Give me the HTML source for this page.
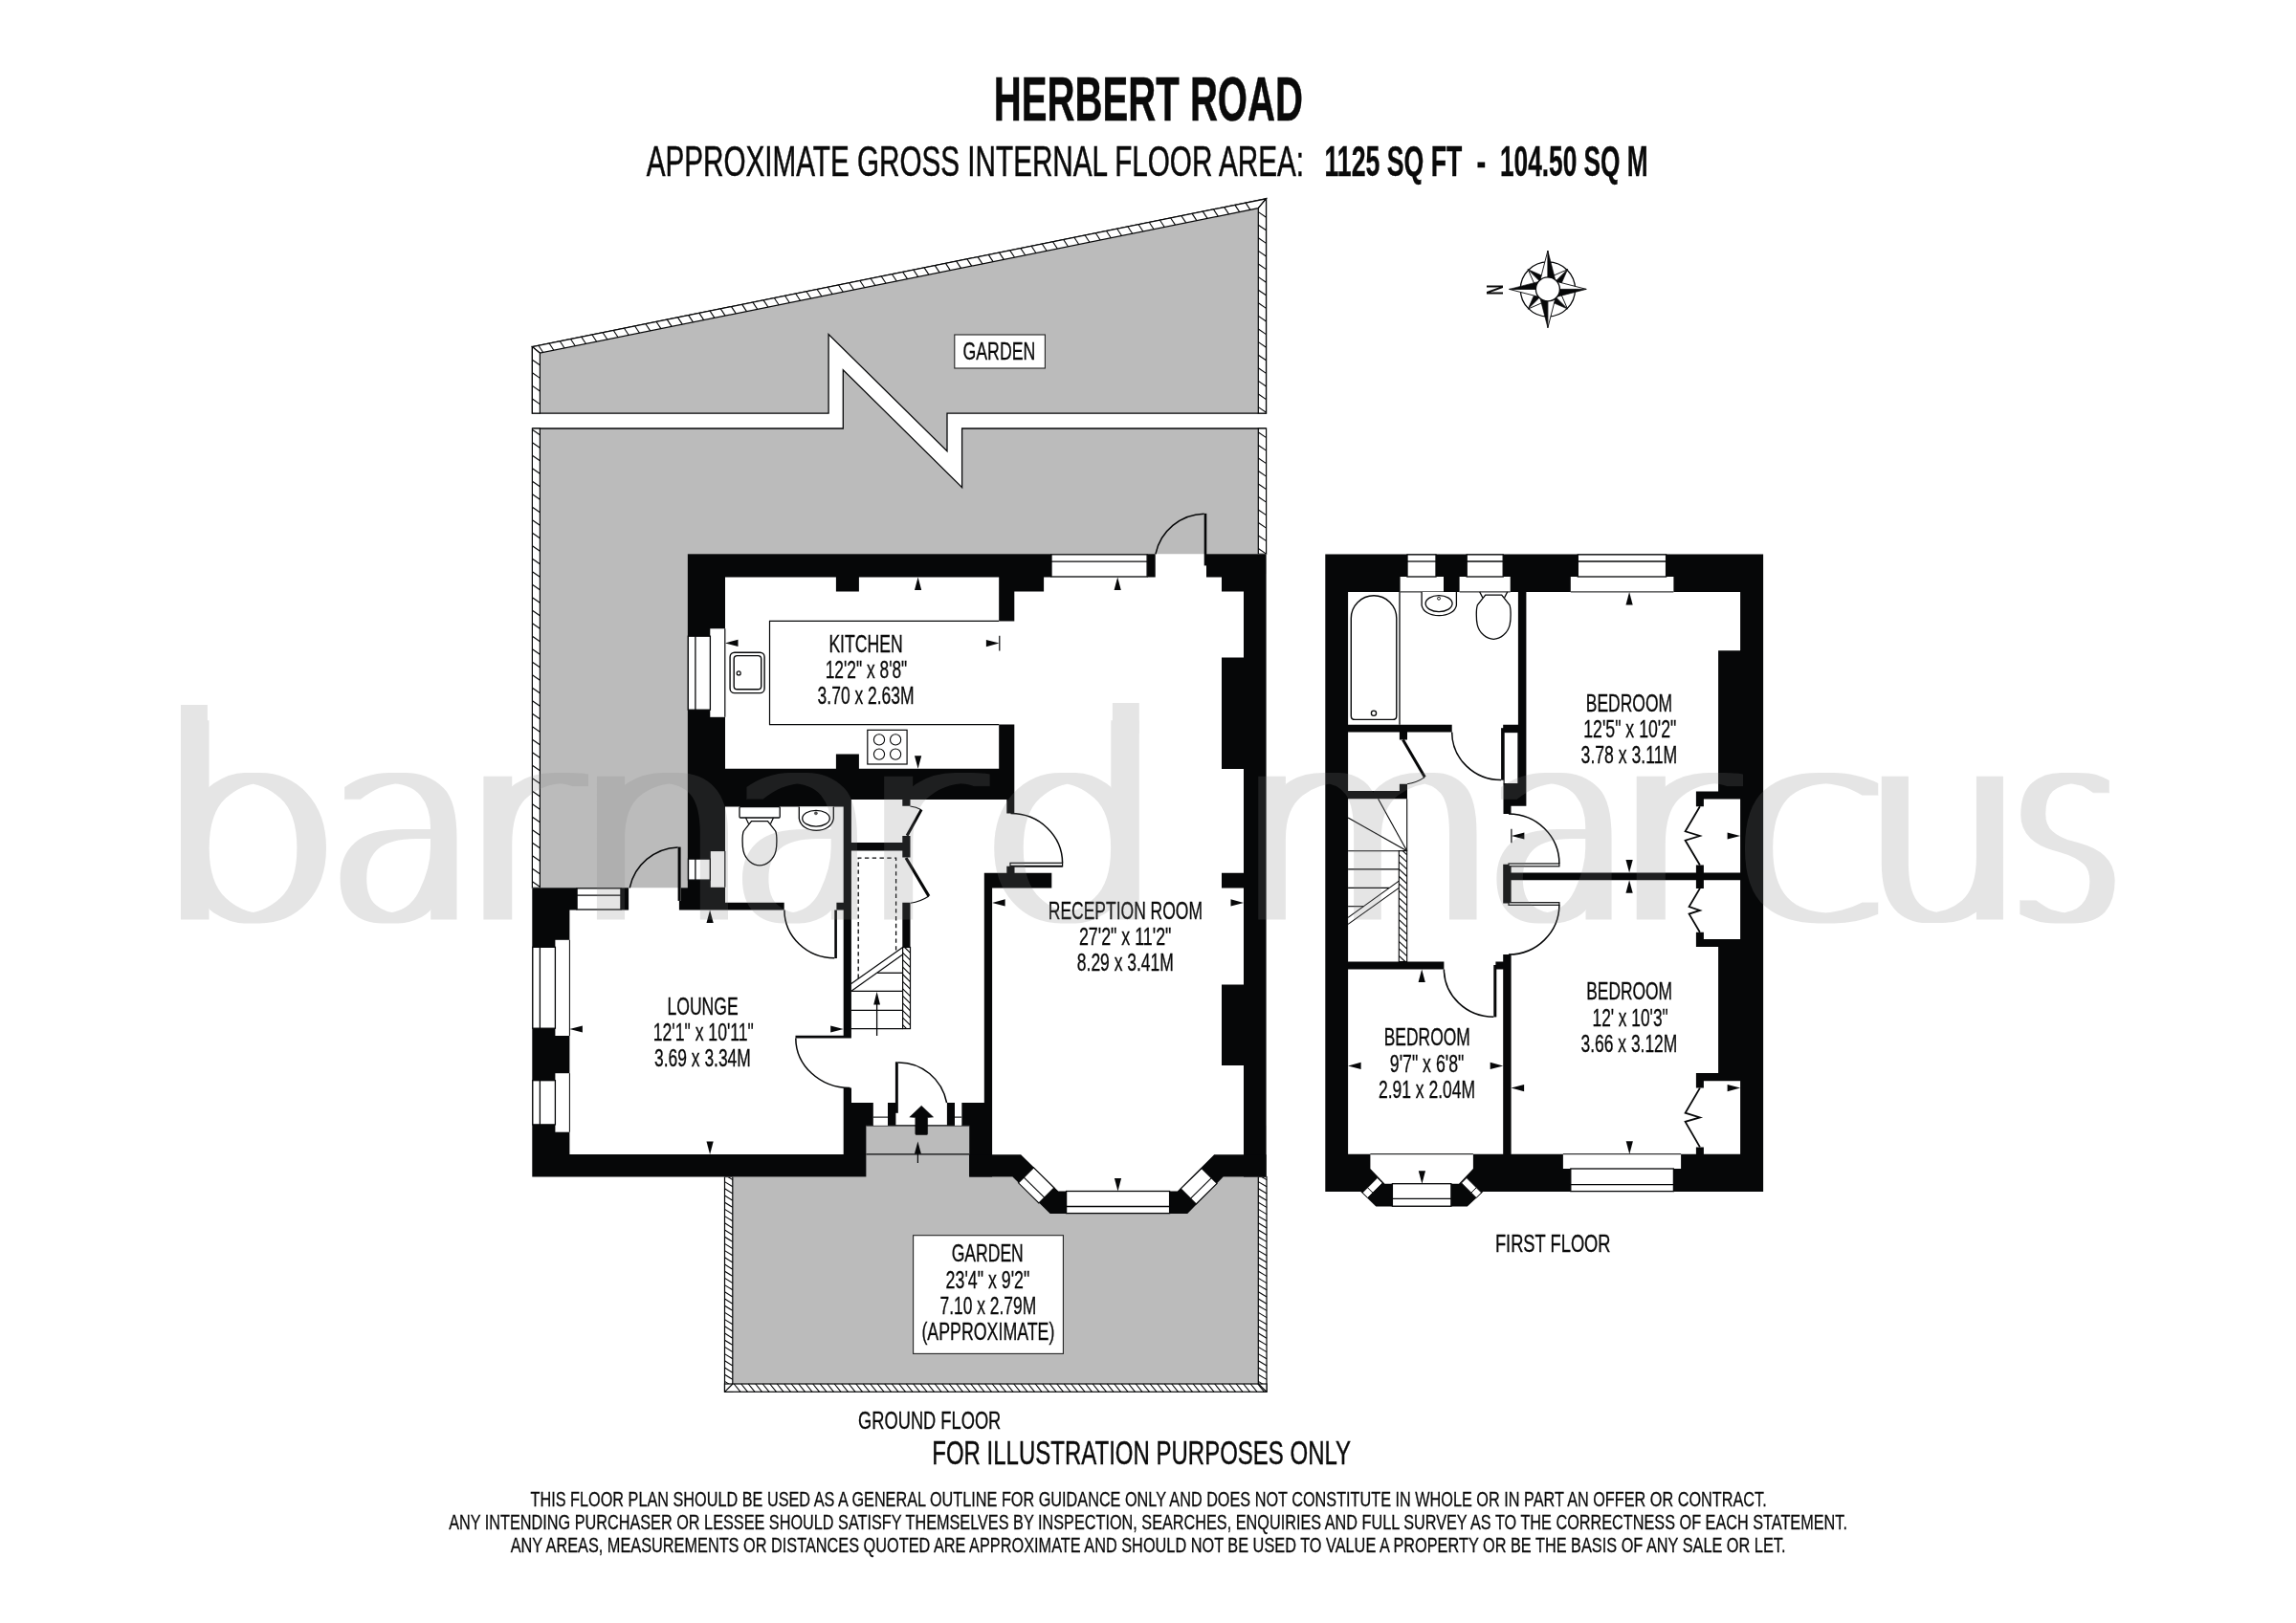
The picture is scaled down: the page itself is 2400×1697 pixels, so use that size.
<!DOCTYPE html>
<html lang="en"><head><meta charset="utf-8"><title>Herbert Road floor plan</title>
<style>html,body{margin:0;padding:0;background:#fff}body{width:2400px;height:1697px;overflow:hidden}svg{display:block;will-change:transform}text{font-family:"Liberation Sans",sans-serif;fill:#0a0a0a}</style>
</head><body>
<svg width="2400" height="1697" viewBox="0 0 2400 1697">
<rect width="2400" height="1697" fill="#fff"/>
<g id="gardens">
<polygon points="556.4,362.6 1323.5,207.8 1323.5,432.2 990,432.2 990,471.7 866.1,349.5 866.1,432.2 556.4,432.2" fill="#bbbbbb" stroke="#060708" stroke-width="1.3"/>
<polygon points="556.4,448 881.3,448 881.3,386.8 1005.6,509.6 1005.6,448 1323.6,448 1323.6,600 730,600 730,940 556.4,940" fill="#bbbbbb"/>
<polyline points="556.4,448 881.3,448 881.3,386.8 1005.6,509.6 1005.6,448 1323.6,448" fill="none" stroke="#060708" stroke-width="1.3"/>
<rect x="757.3" y="1176.8" width="566.5" height="278.5" fill="#bbbbbb"/>
</g>
<g id="fences">
<polygon points="556.4,362.6 1323.5,207.8 1315.3,217.65 564.4,369.19" fill="#fff" stroke="#060708" stroke-width="1.2"/>
<line x1="562.9" y1="361.29" x2="567.7" y2="368.52" stroke="#060708" stroke-width="1.1"/>
<line x1="574.1" y1="359.03" x2="578.9" y2="366.26" stroke="#060708" stroke-width="1.1"/>
<line x1="585.3" y1="356.77" x2="590.1" y2="364" stroke="#060708" stroke-width="1.1"/>
<line x1="596.5" y1="354.51" x2="601.3" y2="361.74" stroke="#060708" stroke-width="1.1"/>
<line x1="607.7" y1="352.25" x2="612.5" y2="359.48" stroke="#060708" stroke-width="1.1"/>
<line x1="618.9" y1="349.99" x2="623.7" y2="357.22" stroke="#060708" stroke-width="1.1"/>
<line x1="630.1" y1="347.73" x2="634.9" y2="354.96" stroke="#060708" stroke-width="1.1"/>
<line x1="641.3" y1="345.47" x2="646.1" y2="352.7" stroke="#060708" stroke-width="1.1"/>
<line x1="652.5" y1="343.21" x2="657.3" y2="350.44" stroke="#060708" stroke-width="1.1"/>
<line x1="663.7" y1="340.95" x2="668.5" y2="348.18" stroke="#060708" stroke-width="1.1"/>
<line x1="674.9" y1="338.69" x2="679.7" y2="345.92" stroke="#060708" stroke-width="1.1"/>
<line x1="686.1" y1="336.43" x2="690.9" y2="343.66" stroke="#060708" stroke-width="1.1"/>
<line x1="697.3" y1="334.17" x2="702.1" y2="341.4" stroke="#060708" stroke-width="1.1"/>
<line x1="708.5" y1="331.91" x2="713.3" y2="339.14" stroke="#060708" stroke-width="1.1"/>
<line x1="719.7" y1="329.65" x2="724.5" y2="336.88" stroke="#060708" stroke-width="1.1"/>
<line x1="730.9" y1="327.39" x2="735.7" y2="334.62" stroke="#060708" stroke-width="1.1"/>
<line x1="742.1" y1="325.13" x2="746.9" y2="332.36" stroke="#060708" stroke-width="1.1"/>
<line x1="753.3" y1="322.87" x2="758.1" y2="330.1" stroke="#060708" stroke-width="1.1"/>
<line x1="764.5" y1="320.61" x2="769.3" y2="327.84" stroke="#060708" stroke-width="1.1"/>
<line x1="775.7" y1="318.35" x2="780.5" y2="325.58" stroke="#060708" stroke-width="1.1"/>
<line x1="786.9" y1="316.09" x2="791.7" y2="323.32" stroke="#060708" stroke-width="1.1"/>
<line x1="798.1" y1="313.83" x2="802.9" y2="321.06" stroke="#060708" stroke-width="1.1"/>
<line x1="809.3" y1="311.57" x2="814.1" y2="318.8" stroke="#060708" stroke-width="1.1"/>
<line x1="820.5" y1="309.3" x2="825.3" y2="316.54" stroke="#060708" stroke-width="1.1"/>
<line x1="831.7" y1="307.04" x2="836.5" y2="314.28" stroke="#060708" stroke-width="1.1"/>
<line x1="842.9" y1="304.78" x2="847.7" y2="312.02" stroke="#060708" stroke-width="1.1"/>
<line x1="854.1" y1="302.52" x2="858.9" y2="309.76" stroke="#060708" stroke-width="1.1"/>
<line x1="865.3" y1="300.26" x2="870.1" y2="307.5" stroke="#060708" stroke-width="1.1"/>
<line x1="876.5" y1="298" x2="881.3" y2="305.24" stroke="#060708" stroke-width="1.1"/>
<line x1="887.7" y1="295.74" x2="892.5" y2="302.98" stroke="#060708" stroke-width="1.1"/>
<line x1="898.9" y1="293.48" x2="903.7" y2="300.72" stroke="#060708" stroke-width="1.1"/>
<line x1="910.1" y1="291.22" x2="914.9" y2="298.46" stroke="#060708" stroke-width="1.1"/>
<line x1="921.3" y1="288.96" x2="926.1" y2="296.19" stroke="#060708" stroke-width="1.1"/>
<line x1="932.5" y1="286.7" x2="937.3" y2="293.93" stroke="#060708" stroke-width="1.1"/>
<line x1="943.7" y1="284.44" x2="948.5" y2="291.67" stroke="#060708" stroke-width="1.1"/>
<line x1="954.9" y1="282.18" x2="959.7" y2="289.41" stroke="#060708" stroke-width="1.1"/>
<line x1="966.1" y1="279.92" x2="970.9" y2="287.15" stroke="#060708" stroke-width="1.1"/>
<line x1="977.3" y1="277.66" x2="982.1" y2="284.89" stroke="#060708" stroke-width="1.1"/>
<line x1="988.5" y1="275.4" x2="993.3" y2="282.63" stroke="#060708" stroke-width="1.1"/>
<line x1="999.7" y1="273.14" x2="1004.5" y2="280.37" stroke="#060708" stroke-width="1.1"/>
<line x1="1010.9" y1="270.88" x2="1015.7" y2="278.11" stroke="#060708" stroke-width="1.1"/>
<line x1="1022.1" y1="268.62" x2="1026.9" y2="275.85" stroke="#060708" stroke-width="1.1"/>
<line x1="1033.3" y1="266.36" x2="1038.1" y2="273.59" stroke="#060708" stroke-width="1.1"/>
<line x1="1044.5" y1="264.1" x2="1049.3" y2="271.33" stroke="#060708" stroke-width="1.1"/>
<line x1="1055.7" y1="261.84" x2="1060.5" y2="269.07" stroke="#060708" stroke-width="1.1"/>
<line x1="1066.9" y1="259.58" x2="1071.7" y2="266.81" stroke="#060708" stroke-width="1.1"/>
<line x1="1078.1" y1="257.32" x2="1082.9" y2="264.55" stroke="#060708" stroke-width="1.1"/>
<line x1="1089.3" y1="255.06" x2="1094.1" y2="262.29" stroke="#060708" stroke-width="1.1"/>
<line x1="1100.5" y1="252.8" x2="1105.3" y2="260.03" stroke="#060708" stroke-width="1.1"/>
<line x1="1111.7" y1="250.54" x2="1116.5" y2="257.77" stroke="#060708" stroke-width="1.1"/>
<line x1="1122.9" y1="248.28" x2="1127.7" y2="255.51" stroke="#060708" stroke-width="1.1"/>
<line x1="1134.1" y1="246.02" x2="1138.9" y2="253.25" stroke="#060708" stroke-width="1.1"/>
<line x1="1145.3" y1="243.76" x2="1150.1" y2="250.99" stroke="#060708" stroke-width="1.1"/>
<line x1="1156.5" y1="241.5" x2="1161.3" y2="248.73" stroke="#060708" stroke-width="1.1"/>
<line x1="1167.7" y1="239.24" x2="1172.5" y2="246.47" stroke="#060708" stroke-width="1.1"/>
<line x1="1178.9" y1="236.98" x2="1183.7" y2="244.21" stroke="#060708" stroke-width="1.1"/>
<line x1="1190.1" y1="234.72" x2="1194.9" y2="241.95" stroke="#060708" stroke-width="1.1"/>
<line x1="1201.3" y1="232.46" x2="1206.1" y2="239.69" stroke="#060708" stroke-width="1.1"/>
<line x1="1212.5" y1="230.2" x2="1217.3" y2="237.43" stroke="#060708" stroke-width="1.1"/>
<line x1="1223.7" y1="227.94" x2="1228.5" y2="235.17" stroke="#060708" stroke-width="1.1"/>
<line x1="1234.9" y1="225.68" x2="1239.7" y2="232.91" stroke="#060708" stroke-width="1.1"/>
<line x1="1246.1" y1="223.42" x2="1250.9" y2="230.65" stroke="#060708" stroke-width="1.1"/>
<line x1="1257.3" y1="221.16" x2="1262.1" y2="228.39" stroke="#060708" stroke-width="1.1"/>
<line x1="1268.5" y1="218.9" x2="1273.3" y2="226.13" stroke="#060708" stroke-width="1.1"/>
<line x1="1279.7" y1="216.64" x2="1284.5" y2="223.87" stroke="#060708" stroke-width="1.1"/>
<line x1="1290.9" y1="214.38" x2="1295.7" y2="221.61" stroke="#060708" stroke-width="1.1"/>
<line x1="1302.1" y1="212.12" x2="1306.9" y2="219.35" stroke="#060708" stroke-width="1.1"/>
<line x1="556.4" y1="362.6" x2="564.4" y2="369.19" stroke="#060708" stroke-width="1.1"/>
<line x1="1323.5" y1="207.8" x2="1315.3" y2="217.65" stroke="#060708" stroke-width="1.1"/>
<polygon points="556.4,362.6 564.4,369.19 564.4,432.2 556.4,432.2" fill="#fff" stroke="#060708" stroke-width="1.2"/>
<line x1="556.4" y1="376.2" x2="564.4" y2="381.8" stroke="#060708" stroke-width="1.1"/>
<line x1="556.4" y1="389.8" x2="564.4" y2="395.4" stroke="#060708" stroke-width="1.1"/>
<line x1="556.4" y1="403.4" x2="564.4" y2="409" stroke="#060708" stroke-width="1.1"/>
<line x1="556.4" y1="417" x2="564.4" y2="422.6" stroke="#060708" stroke-width="1.1"/>
<polygon points="1323.5,207.8 1323.5,432.2 1315.3,432.2 1315.3,217.65" fill="#fff" stroke="#060708" stroke-width="1.2"/>
<line x1="1315.3" y1="221.6" x2="1323.5" y2="227.2" stroke="#060708" stroke-width="1.1"/>
<line x1="1315.3" y1="235.2" x2="1323.5" y2="240.8" stroke="#060708" stroke-width="1.1"/>
<line x1="1315.3" y1="248.8" x2="1323.5" y2="254.4" stroke="#060708" stroke-width="1.1"/>
<line x1="1315.3" y1="262.4" x2="1323.5" y2="268" stroke="#060708" stroke-width="1.1"/>
<line x1="1315.3" y1="276" x2="1323.5" y2="281.6" stroke="#060708" stroke-width="1.1"/>
<line x1="1315.3" y1="289.6" x2="1323.5" y2="295.2" stroke="#060708" stroke-width="1.1"/>
<line x1="1315.3" y1="303.2" x2="1323.5" y2="308.8" stroke="#060708" stroke-width="1.1"/>
<line x1="1315.3" y1="316.8" x2="1323.5" y2="322.4" stroke="#060708" stroke-width="1.1"/>
<line x1="1315.3" y1="330.4" x2="1323.5" y2="336" stroke="#060708" stroke-width="1.1"/>
<line x1="1315.3" y1="344" x2="1323.5" y2="349.6" stroke="#060708" stroke-width="1.1"/>
<line x1="1315.3" y1="357.6" x2="1323.5" y2="363.2" stroke="#060708" stroke-width="1.1"/>
<line x1="1315.3" y1="371.2" x2="1323.5" y2="376.8" stroke="#060708" stroke-width="1.1"/>
<line x1="1315.3" y1="384.8" x2="1323.5" y2="390.4" stroke="#060708" stroke-width="1.1"/>
<line x1="1315.3" y1="398.4" x2="1323.5" y2="404" stroke="#060708" stroke-width="1.1"/>
<line x1="1315.3" y1="412" x2="1323.5" y2="417.6" stroke="#060708" stroke-width="1.1"/>
<line x1="1315.3" y1="425.6" x2="1323.5" y2="431.2" stroke="#060708" stroke-width="1.1"/>
<rect x="556.4" y="448" width="8" height="480.3" fill="#fff" stroke="#060708" stroke-width="1.2"/>
<line x1="556.4" y1="449.2" x2="564.4" y2="454.8" stroke="#060708" stroke-width="1.1"/>
<line x1="556.4" y1="462.7" x2="564.4" y2="468.3" stroke="#060708" stroke-width="1.1"/>
<line x1="556.4" y1="476.2" x2="564.4" y2="481.8" stroke="#060708" stroke-width="1.1"/>
<line x1="556.4" y1="489.7" x2="564.4" y2="495.3" stroke="#060708" stroke-width="1.1"/>
<line x1="556.4" y1="503.2" x2="564.4" y2="508.8" stroke="#060708" stroke-width="1.1"/>
<line x1="556.4" y1="516.7" x2="564.4" y2="522.3" stroke="#060708" stroke-width="1.1"/>
<line x1="556.4" y1="530.2" x2="564.4" y2="535.8" stroke="#060708" stroke-width="1.1"/>
<line x1="556.4" y1="543.7" x2="564.4" y2="549.3" stroke="#060708" stroke-width="1.1"/>
<line x1="556.4" y1="557.2" x2="564.4" y2="562.8" stroke="#060708" stroke-width="1.1"/>
<line x1="556.4" y1="570.7" x2="564.4" y2="576.3" stroke="#060708" stroke-width="1.1"/>
<line x1="556.4" y1="584.2" x2="564.4" y2="589.8" stroke="#060708" stroke-width="1.1"/>
<line x1="556.4" y1="597.7" x2="564.4" y2="603.3" stroke="#060708" stroke-width="1.1"/>
<line x1="556.4" y1="611.2" x2="564.4" y2="616.8" stroke="#060708" stroke-width="1.1"/>
<line x1="556.4" y1="624.7" x2="564.4" y2="630.3" stroke="#060708" stroke-width="1.1"/>
<line x1="556.4" y1="638.2" x2="564.4" y2="643.8" stroke="#060708" stroke-width="1.1"/>
<line x1="556.4" y1="651.7" x2="564.4" y2="657.3" stroke="#060708" stroke-width="1.1"/>
<line x1="556.4" y1="665.2" x2="564.4" y2="670.8" stroke="#060708" stroke-width="1.1"/>
<line x1="556.4" y1="678.7" x2="564.4" y2="684.3" stroke="#060708" stroke-width="1.1"/>
<line x1="556.4" y1="692.2" x2="564.4" y2="697.8" stroke="#060708" stroke-width="1.1"/>
<line x1="556.4" y1="705.7" x2="564.4" y2="711.3" stroke="#060708" stroke-width="1.1"/>
<line x1="556.4" y1="719.2" x2="564.4" y2="724.8" stroke="#060708" stroke-width="1.1"/>
<line x1="556.4" y1="732.7" x2="564.4" y2="738.3" stroke="#060708" stroke-width="1.1"/>
<line x1="556.4" y1="746.2" x2="564.4" y2="751.8" stroke="#060708" stroke-width="1.1"/>
<line x1="556.4" y1="759.7" x2="564.4" y2="765.3" stroke="#060708" stroke-width="1.1"/>
<line x1="556.4" y1="773.2" x2="564.4" y2="778.8" stroke="#060708" stroke-width="1.1"/>
<line x1="556.4" y1="786.7" x2="564.4" y2="792.3" stroke="#060708" stroke-width="1.1"/>
<line x1="556.4" y1="800.2" x2="564.4" y2="805.8" stroke="#060708" stroke-width="1.1"/>
<line x1="556.4" y1="813.7" x2="564.4" y2="819.3" stroke="#060708" stroke-width="1.1"/>
<line x1="556.4" y1="827.2" x2="564.4" y2="832.8" stroke="#060708" stroke-width="1.1"/>
<line x1="556.4" y1="840.7" x2="564.4" y2="846.3" stroke="#060708" stroke-width="1.1"/>
<line x1="556.4" y1="854.2" x2="564.4" y2="859.8" stroke="#060708" stroke-width="1.1"/>
<line x1="556.4" y1="867.7" x2="564.4" y2="873.3" stroke="#060708" stroke-width="1.1"/>
<line x1="556.4" y1="881.2" x2="564.4" y2="886.8" stroke="#060708" stroke-width="1.1"/>
<line x1="556.4" y1="894.7" x2="564.4" y2="900.3" stroke="#060708" stroke-width="1.1"/>
<line x1="556.4" y1="908.2" x2="564.4" y2="913.8" stroke="#060708" stroke-width="1.1"/>
<line x1="556.4" y1="921.7" x2="564.4" y2="927.3" stroke="#060708" stroke-width="1.1"/>
<rect x="1315.3" y="448" width="8.3" height="131.3" fill="#fff" stroke="#060708" stroke-width="1.2"/>
<line x1="1315.3" y1="452" x2="1323.6" y2="457.6" stroke="#060708" stroke-width="1.1"/>
<line x1="1315.3" y1="465.5" x2="1323.6" y2="471.1" stroke="#060708" stroke-width="1.1"/>
<line x1="1315.3" y1="479" x2="1323.6" y2="484.6" stroke="#060708" stroke-width="1.1"/>
<line x1="1315.3" y1="492.5" x2="1323.6" y2="498.1" stroke="#060708" stroke-width="1.1"/>
<line x1="1315.3" y1="506" x2="1323.6" y2="511.6" stroke="#060708" stroke-width="1.1"/>
<line x1="1315.3" y1="519.5" x2="1323.6" y2="525.1" stroke="#060708" stroke-width="1.1"/>
<line x1="1315.3" y1="533" x2="1323.6" y2="538.6" stroke="#060708" stroke-width="1.1"/>
<line x1="1315.3" y1="546.5" x2="1323.6" y2="552.1" stroke="#060708" stroke-width="1.1"/>
<line x1="1315.3" y1="560" x2="1323.6" y2="565.6" stroke="#060708" stroke-width="1.1"/>
<line x1="1315.3" y1="573.5" x2="1323.6" y2="579.1" stroke="#060708" stroke-width="1.1"/>
<rect x="757.5" y="1230.5" width="8.3" height="224.8" fill="#fff" stroke="#060708" stroke-width="1.2"/>
<line x1="760.85" y1="1230.5" x2="765.8" y2="1233.6" stroke="#060708" stroke-width="1.1"/>
<line x1="757.5" y1="1235.6" x2="765.8" y2="1240.8" stroke="#060708" stroke-width="1.1"/>
<line x1="757.5" y1="1242.8" x2="765.8" y2="1248" stroke="#060708" stroke-width="1.1"/>
<line x1="757.5" y1="1250" x2="765.8" y2="1255.2" stroke="#060708" stroke-width="1.1"/>
<line x1="757.5" y1="1257.2" x2="765.8" y2="1262.4" stroke="#060708" stroke-width="1.1"/>
<line x1="757.5" y1="1264.4" x2="765.8" y2="1269.6" stroke="#060708" stroke-width="1.1"/>
<line x1="757.5" y1="1271.6" x2="765.8" y2="1276.8" stroke="#060708" stroke-width="1.1"/>
<line x1="757.5" y1="1278.8" x2="765.8" y2="1284" stroke="#060708" stroke-width="1.1"/>
<line x1="757.5" y1="1286" x2="765.8" y2="1291.2" stroke="#060708" stroke-width="1.1"/>
<line x1="757.5" y1="1293.2" x2="765.8" y2="1298.4" stroke="#060708" stroke-width="1.1"/>
<line x1="757.5" y1="1300.4" x2="765.8" y2="1305.6" stroke="#060708" stroke-width="1.1"/>
<line x1="757.5" y1="1307.6" x2="765.8" y2="1312.8" stroke="#060708" stroke-width="1.1"/>
<line x1="757.5" y1="1314.8" x2="765.8" y2="1320" stroke="#060708" stroke-width="1.1"/>
<line x1="757.5" y1="1322" x2="765.8" y2="1327.2" stroke="#060708" stroke-width="1.1"/>
<line x1="757.5" y1="1329.2" x2="765.8" y2="1334.4" stroke="#060708" stroke-width="1.1"/>
<line x1="757.5" y1="1336.4" x2="765.8" y2="1341.6" stroke="#060708" stroke-width="1.1"/>
<line x1="757.5" y1="1343.6" x2="765.8" y2="1348.8" stroke="#060708" stroke-width="1.1"/>
<line x1="757.5" y1="1350.8" x2="765.8" y2="1356" stroke="#060708" stroke-width="1.1"/>
<line x1="757.5" y1="1358" x2="765.8" y2="1363.2" stroke="#060708" stroke-width="1.1"/>
<line x1="757.5" y1="1365.2" x2="765.8" y2="1370.4" stroke="#060708" stroke-width="1.1"/>
<line x1="757.5" y1="1372.4" x2="765.8" y2="1377.6" stroke="#060708" stroke-width="1.1"/>
<line x1="757.5" y1="1379.6" x2="765.8" y2="1384.8" stroke="#060708" stroke-width="1.1"/>
<line x1="757.5" y1="1386.8" x2="765.8" y2="1392" stroke="#060708" stroke-width="1.1"/>
<line x1="757.5" y1="1394" x2="765.8" y2="1399.2" stroke="#060708" stroke-width="1.1"/>
<line x1="757.5" y1="1401.2" x2="765.8" y2="1406.4" stroke="#060708" stroke-width="1.1"/>
<line x1="757.5" y1="1408.4" x2="765.8" y2="1413.6" stroke="#060708" stroke-width="1.1"/>
<line x1="757.5" y1="1415.6" x2="765.8" y2="1420.8" stroke="#060708" stroke-width="1.1"/>
<line x1="757.5" y1="1422.8" x2="765.8" y2="1428" stroke="#060708" stroke-width="1.1"/>
<line x1="757.5" y1="1430" x2="765.8" y2="1435.2" stroke="#060708" stroke-width="1.1"/>
<line x1="757.5" y1="1437.2" x2="765.8" y2="1442.4" stroke="#060708" stroke-width="1.1"/>
<line x1="757.5" y1="1444.4" x2="765.8" y2="1449.6" stroke="#060708" stroke-width="1.1"/>
<line x1="757.5" y1="1451.6" x2="763.41" y2="1455.3" stroke="#060708" stroke-width="1.1"/>
<rect x="1315.3" y="1230.5" width="8.7" height="224.8" fill="#fff" stroke="#060708" stroke-width="1.2"/>
<line x1="1318.81" y1="1230.5" x2="1324" y2="1233.6" stroke="#060708" stroke-width="1.1"/>
<line x1="1315.3" y1="1235.6" x2="1324" y2="1240.8" stroke="#060708" stroke-width="1.1"/>
<line x1="1315.3" y1="1242.8" x2="1324" y2="1248" stroke="#060708" stroke-width="1.1"/>
<line x1="1315.3" y1="1250" x2="1324" y2="1255.2" stroke="#060708" stroke-width="1.1"/>
<line x1="1315.3" y1="1257.2" x2="1324" y2="1262.4" stroke="#060708" stroke-width="1.1"/>
<line x1="1315.3" y1="1264.4" x2="1324" y2="1269.6" stroke="#060708" stroke-width="1.1"/>
<line x1="1315.3" y1="1271.6" x2="1324" y2="1276.8" stroke="#060708" stroke-width="1.1"/>
<line x1="1315.3" y1="1278.8" x2="1324" y2="1284" stroke="#060708" stroke-width="1.1"/>
<line x1="1315.3" y1="1286" x2="1324" y2="1291.2" stroke="#060708" stroke-width="1.1"/>
<line x1="1315.3" y1="1293.2" x2="1324" y2="1298.4" stroke="#060708" stroke-width="1.1"/>
<line x1="1315.3" y1="1300.4" x2="1324" y2="1305.6" stroke="#060708" stroke-width="1.1"/>
<line x1="1315.3" y1="1307.6" x2="1324" y2="1312.8" stroke="#060708" stroke-width="1.1"/>
<line x1="1315.3" y1="1314.8" x2="1324" y2="1320" stroke="#060708" stroke-width="1.1"/>
<line x1="1315.3" y1="1322" x2="1324" y2="1327.2" stroke="#060708" stroke-width="1.1"/>
<line x1="1315.3" y1="1329.2" x2="1324" y2="1334.4" stroke="#060708" stroke-width="1.1"/>
<line x1="1315.3" y1="1336.4" x2="1324" y2="1341.6" stroke="#060708" stroke-width="1.1"/>
<line x1="1315.3" y1="1343.6" x2="1324" y2="1348.8" stroke="#060708" stroke-width="1.1"/>
<line x1="1315.3" y1="1350.8" x2="1324" y2="1356" stroke="#060708" stroke-width="1.1"/>
<line x1="1315.3" y1="1358" x2="1324" y2="1363.2" stroke="#060708" stroke-width="1.1"/>
<line x1="1315.3" y1="1365.2" x2="1324" y2="1370.4" stroke="#060708" stroke-width="1.1"/>
<line x1="1315.3" y1="1372.4" x2="1324" y2="1377.6" stroke="#060708" stroke-width="1.1"/>
<line x1="1315.3" y1="1379.6" x2="1324" y2="1384.8" stroke="#060708" stroke-width="1.1"/>
<line x1="1315.3" y1="1386.8" x2="1324" y2="1392" stroke="#060708" stroke-width="1.1"/>
<line x1="1315.3" y1="1394" x2="1324" y2="1399.2" stroke="#060708" stroke-width="1.1"/>
<line x1="1315.3" y1="1401.2" x2="1324" y2="1406.4" stroke="#060708" stroke-width="1.1"/>
<line x1="1315.3" y1="1408.4" x2="1324" y2="1413.6" stroke="#060708" stroke-width="1.1"/>
<line x1="1315.3" y1="1415.6" x2="1324" y2="1420.8" stroke="#060708" stroke-width="1.1"/>
<line x1="1315.3" y1="1422.8" x2="1324" y2="1428" stroke="#060708" stroke-width="1.1"/>
<line x1="1315.3" y1="1430" x2="1324" y2="1435.2" stroke="#060708" stroke-width="1.1"/>
<line x1="1315.3" y1="1437.2" x2="1324" y2="1442.4" stroke="#060708" stroke-width="1.1"/>
<line x1="1315.3" y1="1444.4" x2="1324" y2="1449.6" stroke="#060708" stroke-width="1.1"/>
<line x1="1315.3" y1="1451.6" x2="1321.49" y2="1455.3" stroke="#060708" stroke-width="1.1"/>
<rect x="757.5" y="1447" width="566.5" height="8.3" fill="#fff" stroke="#060708" stroke-width="1.2"/>
<line x1="767.25" y1="1447" x2="774.05" y2="1455.3" stroke="#060708" stroke-width="1.1"/>
<line x1="774.75" y1="1447" x2="781.55" y2="1455.3" stroke="#060708" stroke-width="1.1"/>
<line x1="782.25" y1="1447" x2="789.05" y2="1455.3" stroke="#060708" stroke-width="1.1"/>
<line x1="789.75" y1="1447" x2="796.55" y2="1455.3" stroke="#060708" stroke-width="1.1"/>
<line x1="797.25" y1="1447" x2="804.05" y2="1455.3" stroke="#060708" stroke-width="1.1"/>
<line x1="804.75" y1="1447" x2="811.55" y2="1455.3" stroke="#060708" stroke-width="1.1"/>
<line x1="812.25" y1="1447" x2="819.05" y2="1455.3" stroke="#060708" stroke-width="1.1"/>
<line x1="819.75" y1="1447" x2="826.55" y2="1455.3" stroke="#060708" stroke-width="1.1"/>
<line x1="827.25" y1="1447" x2="834.05" y2="1455.3" stroke="#060708" stroke-width="1.1"/>
<line x1="834.75" y1="1447" x2="841.55" y2="1455.3" stroke="#060708" stroke-width="1.1"/>
<line x1="842.25" y1="1447" x2="849.05" y2="1455.3" stroke="#060708" stroke-width="1.1"/>
<line x1="849.75" y1="1447" x2="856.55" y2="1455.3" stroke="#060708" stroke-width="1.1"/>
<line x1="857.25" y1="1447" x2="864.05" y2="1455.3" stroke="#060708" stroke-width="1.1"/>
<line x1="864.75" y1="1447" x2="871.55" y2="1455.3" stroke="#060708" stroke-width="1.1"/>
<line x1="872.25" y1="1447" x2="879.05" y2="1455.3" stroke="#060708" stroke-width="1.1"/>
<line x1="879.75" y1="1447" x2="886.55" y2="1455.3" stroke="#060708" stroke-width="1.1"/>
<line x1="887.25" y1="1447" x2="894.05" y2="1455.3" stroke="#060708" stroke-width="1.1"/>
<line x1="894.75" y1="1447" x2="901.55" y2="1455.3" stroke="#060708" stroke-width="1.1"/>
<line x1="902.25" y1="1447" x2="909.05" y2="1455.3" stroke="#060708" stroke-width="1.1"/>
<line x1="909.75" y1="1447" x2="916.55" y2="1455.3" stroke="#060708" stroke-width="1.1"/>
<line x1="917.25" y1="1447" x2="924.05" y2="1455.3" stroke="#060708" stroke-width="1.1"/>
<line x1="924.75" y1="1447" x2="931.55" y2="1455.3" stroke="#060708" stroke-width="1.1"/>
<line x1="932.25" y1="1447" x2="939.05" y2="1455.3" stroke="#060708" stroke-width="1.1"/>
<line x1="939.75" y1="1447" x2="946.55" y2="1455.3" stroke="#060708" stroke-width="1.1"/>
<line x1="947.25" y1="1447" x2="954.05" y2="1455.3" stroke="#060708" stroke-width="1.1"/>
<line x1="954.75" y1="1447" x2="961.55" y2="1455.3" stroke="#060708" stroke-width="1.1"/>
<line x1="962.25" y1="1447" x2="969.05" y2="1455.3" stroke="#060708" stroke-width="1.1"/>
<line x1="969.75" y1="1447" x2="976.55" y2="1455.3" stroke="#060708" stroke-width="1.1"/>
<line x1="977.25" y1="1447" x2="984.05" y2="1455.3" stroke="#060708" stroke-width="1.1"/>
<line x1="984.75" y1="1447" x2="991.55" y2="1455.3" stroke="#060708" stroke-width="1.1"/>
<line x1="992.25" y1="1447" x2="999.05" y2="1455.3" stroke="#060708" stroke-width="1.1"/>
<line x1="999.75" y1="1447" x2="1006.55" y2="1455.3" stroke="#060708" stroke-width="1.1"/>
<line x1="1007.25" y1="1447" x2="1014.05" y2="1455.3" stroke="#060708" stroke-width="1.1"/>
<line x1="1014.75" y1="1447" x2="1021.55" y2="1455.3" stroke="#060708" stroke-width="1.1"/>
<line x1="1022.25" y1="1447" x2="1029.05" y2="1455.3" stroke="#060708" stroke-width="1.1"/>
<line x1="1029.75" y1="1447" x2="1036.55" y2="1455.3" stroke="#060708" stroke-width="1.1"/>
<line x1="1037.25" y1="1447" x2="1044.05" y2="1455.3" stroke="#060708" stroke-width="1.1"/>
<line x1="1044.75" y1="1447" x2="1051.55" y2="1455.3" stroke="#060708" stroke-width="1.1"/>
<line x1="1052.25" y1="1447" x2="1059.05" y2="1455.3" stroke="#060708" stroke-width="1.1"/>
<line x1="1059.75" y1="1447" x2="1066.55" y2="1455.3" stroke="#060708" stroke-width="1.1"/>
<line x1="1067.25" y1="1447" x2="1074.05" y2="1455.3" stroke="#060708" stroke-width="1.1"/>
<line x1="1074.75" y1="1447" x2="1081.55" y2="1455.3" stroke="#060708" stroke-width="1.1"/>
<line x1="1082.25" y1="1447" x2="1089.05" y2="1455.3" stroke="#060708" stroke-width="1.1"/>
<line x1="1089.75" y1="1447" x2="1096.55" y2="1455.3" stroke="#060708" stroke-width="1.1"/>
<line x1="1097.25" y1="1447" x2="1104.05" y2="1455.3" stroke="#060708" stroke-width="1.1"/>
<line x1="1104.75" y1="1447" x2="1111.55" y2="1455.3" stroke="#060708" stroke-width="1.1"/>
<line x1="1112.25" y1="1447" x2="1119.05" y2="1455.3" stroke="#060708" stroke-width="1.1"/>
<line x1="1119.75" y1="1447" x2="1126.55" y2="1455.3" stroke="#060708" stroke-width="1.1"/>
<line x1="1127.25" y1="1447" x2="1134.05" y2="1455.3" stroke="#060708" stroke-width="1.1"/>
<line x1="1134.75" y1="1447" x2="1141.55" y2="1455.3" stroke="#060708" stroke-width="1.1"/>
<line x1="1142.25" y1="1447" x2="1149.05" y2="1455.3" stroke="#060708" stroke-width="1.1"/>
<line x1="1149.75" y1="1447" x2="1156.55" y2="1455.3" stroke="#060708" stroke-width="1.1"/>
<line x1="1157.25" y1="1447" x2="1164.05" y2="1455.3" stroke="#060708" stroke-width="1.1"/>
<line x1="1164.75" y1="1447" x2="1171.55" y2="1455.3" stroke="#060708" stroke-width="1.1"/>
<line x1="1172.25" y1="1447" x2="1179.05" y2="1455.3" stroke="#060708" stroke-width="1.1"/>
<line x1="1179.75" y1="1447" x2="1186.55" y2="1455.3" stroke="#060708" stroke-width="1.1"/>
<line x1="1187.25" y1="1447" x2="1194.05" y2="1455.3" stroke="#060708" stroke-width="1.1"/>
<line x1="1194.75" y1="1447" x2="1201.55" y2="1455.3" stroke="#060708" stroke-width="1.1"/>
<line x1="1202.25" y1="1447" x2="1209.05" y2="1455.3" stroke="#060708" stroke-width="1.1"/>
<line x1="1209.75" y1="1447" x2="1216.55" y2="1455.3" stroke="#060708" stroke-width="1.1"/>
<line x1="1217.25" y1="1447" x2="1224.05" y2="1455.3" stroke="#060708" stroke-width="1.1"/>
<line x1="1224.75" y1="1447" x2="1231.55" y2="1455.3" stroke="#060708" stroke-width="1.1"/>
<line x1="1232.25" y1="1447" x2="1239.05" y2="1455.3" stroke="#060708" stroke-width="1.1"/>
<line x1="1239.75" y1="1447" x2="1246.55" y2="1455.3" stroke="#060708" stroke-width="1.1"/>
<line x1="1247.25" y1="1447" x2="1254.05" y2="1455.3" stroke="#060708" stroke-width="1.1"/>
<line x1="1254.75" y1="1447" x2="1261.55" y2="1455.3" stroke="#060708" stroke-width="1.1"/>
<line x1="1262.25" y1="1447" x2="1269.05" y2="1455.3" stroke="#060708" stroke-width="1.1"/>
<line x1="1269.75" y1="1447" x2="1276.55" y2="1455.3" stroke="#060708" stroke-width="1.1"/>
<line x1="1277.25" y1="1447" x2="1284.05" y2="1455.3" stroke="#060708" stroke-width="1.1"/>
<line x1="1284.75" y1="1447" x2="1291.55" y2="1455.3" stroke="#060708" stroke-width="1.1"/>
<line x1="1292.25" y1="1447" x2="1299.05" y2="1455.3" stroke="#060708" stroke-width="1.1"/>
<line x1="1299.75" y1="1447" x2="1306.55" y2="1455.3" stroke="#060708" stroke-width="1.1"/>
<line x1="1307.25" y1="1447" x2="1314.05" y2="1455.3" stroke="#060708" stroke-width="1.1"/>
<line x1="1314.75" y1="1447" x2="1321.55" y2="1455.3" stroke="#060708" stroke-width="1.1"/>
<line x1="757.5" y1="1455.3" x2="765.8" y2="1447" stroke="#060708" stroke-width="1.2"/>
<line x1="1324" y1="1455.3" x2="1315.3" y2="1447" stroke="#060708" stroke-width="1.2"/>
</g>
<g id="ground">
<polygon points="718.8,579.3 1323.6,579.3 1323.6,1230.5 1278.7,1230.5 1241.3,1269 1097.6,1269 1058.4,1230.5 1013.2,1230.5 1013.2,1176.8 905.4,1176.8 905.4,1230.5 556.3,1230.5 556.3,928.3 718.8,928.3" fill="#fff"/>
<rect x="905.4" y="1176.8" width="107.8" height="53.7" fill="#bbbbbb"/>
<line x1="905.4" y1="1176.8" x2="1013.2" y2="1176.8" stroke="#060708" stroke-width="1.2"/>
<line x1="905.4" y1="1206.9" x2="1013.2" y2="1206.9" stroke="#060708" stroke-width="1.2"/>
<path d="M718.8,579.3H1099V603.4H718.8Z M718.8,579.3H758V928.3H718.8Z M873.9,603.4H897.9V618.5H873.9Z M1044.2,603.4H1060.3V649.4H1044.2Z M1059.5,603.4H1091.1V618.4H1059.5Z M1044.2,757.6H1060.3V836.1H1044.2Z M1052.3,835H1060.3V850.6H1052.3Z M718.8,803.7H1060.3V836.1H718.8Z M718.8,835H889.9V843.6H718.8Z M873.9,788.6H897.9V803.7H873.9Z M1199.1,579.3H1207.7V603.4H1199.1Z M1261,579.3H1323.6V603.4H1261Z M1277,603.4H1323.6V618.4H1277Z M1300,579.3H1323.6V1230.5H1300Z M1277,687.6H1300V804H1277Z M1277,912.8H1300V928.4H1277Z M1277,1029.5H1300V1114H1277Z M1028.8,912.8H1037.1V1207.2H1028.8Z M1028.8,912.8H1099.3V928.4H1028.8Z M1052.3,905.8H1060.5V912.8H1052.3Z M1005.2,1153H1037.1V1176.8H1005.2Z M1013.2,1176.8H1037.1V1230.5H1013.2Z M989.9,1153H998V1176.8H989.9Z M928,1153H936.4V1176.8H928Z M890,1153H912.9V1176.8H890Z M881.7,1153H905.4V1230.5H881.7Z M881.7,1137.6H890V1153H881.7Z M556.3,1206.9H905.4V1230.5H556.3Z M556.3,928.3H595.4V1230.5H556.3Z M556.3,928.3H603.1V951.5H556.3Z M648.9,928.3H657.1V951.5H648.9Z M711.6,928.3H758V951.5H711.6Z M709.9,941.9H711.6V951.5H709.9Z M758,943.7H819.7V951.5H758Z M881.7,843.6H889.9V1084.5H881.7Z M874.4,943.7H881.7V951.5H874.4Z M889.9,881H943.3V889.4H889.9Z M943.3,836.1H951.5V842.7H943.3Z M943.3,874.1H951.5V896.4H943.3Z M943.3,943.8H951.5V990.8H943.3Z M831.5,1082.8H889.9V1085.4H831.5Z" fill="#060708" stroke="none" stroke-width="0"/>
<polygon points="1013.2,1230.5 1058.4,1230.5 1097.6,1269 1241.3,1269 1278.7,1230.5 1323.6,1230.5 1323.6,1207.2 1269.2,1207.2 1230.8,1245.5 1106.3,1245.5 1067.1,1207.2 1013.2,1207.2" fill="#060708"/>
<rect x="742.3" y="657.3" width="15.9" height="92.5" fill="#fff"/>
<rect x="719.3" y="665.2" width="23.1" height="77" fill="#fff" stroke="#060708" stroke-width="1.3"/>
<line x1="726.9" y1="665.2" x2="726.9" y2="742.2" stroke="#060708" stroke-width="1.3"/>
<line x1="757.8" y1="657.3" x2="757.8" y2="749.8" stroke="#060708" stroke-width="1.2"/>
<rect x="742.8" y="890.1" width="15.4" height="37.7" fill="#fff"/>
<rect x="719.5" y="898.1" width="22.8" height="22" fill="#fff" stroke="#060708" stroke-width="1.3"/>
<line x1="726.9" y1="898.1" x2="726.9" y2="920.1" stroke="#060708" stroke-width="1.3"/>
<line x1="757.8" y1="890.1" x2="757.8" y2="927.8" stroke="#060708" stroke-width="1.2"/>
<rect x="1099" y="579.8" width="100.1" height="23.2" fill="#fff" stroke="#060708" stroke-width="1.3"/>
<line x1="1099" y1="587.1" x2="1199.1" y2="587.1" stroke="#060708" stroke-width="1.3"/>
<rect x="603.1" y="928.8" width="45.8" height="22.2" fill="#fff" stroke="#060708" stroke-width="1.3"/>
<line x1="603.1" y1="936.1" x2="648.9" y2="936.1" stroke="#060708" stroke-width="1.3"/>
<rect x="580.4" y="982.8" width="15.2" height="100.2" fill="#fff"/>
<rect x="556.8" y="990.3" width="23.6" height="84.9" fill="#fff" stroke="#060708" stroke-width="1.3"/>
<line x1="564.4" y1="990.3" x2="564.4" y2="1075.2" stroke="#060708" stroke-width="1.3"/>
<rect x="580.4" y="1122.2" width="15.2" height="61.5" fill="#fff"/>
<rect x="556.8" y="1129.7" width="23.6" height="46.2" fill="#fff" stroke="#060708" stroke-width="1.3"/>
<line x1="564.4" y1="1129.7" x2="564.4" y2="1175.9" stroke="#060708" stroke-width="1.3"/>
<line x1="595.4" y1="982.8" x2="595.4" y2="1083" stroke="#060708" stroke-width="1"/>
<line x1="595.4" y1="1122.2" x2="595.4" y2="1183.7" stroke="#060708" stroke-width="1"/>
<rect x="912.9" y="1153" width="15.1" height="23.8" fill="#fff"/>
<line x1="912.9" y1="1168.1" x2="928" y2="1168.1" stroke="#060708" stroke-width="1.1"/>
<rect x="998" y="1153" width="7.2" height="23.8" fill="#fff"/>
<line x1="998" y1="1168.1" x2="1005.2" y2="1168.1" stroke="#060708" stroke-width="1.1"/>
<rect x="1114.6" y="1245.5" width="108" height="23.1" fill="#fff" stroke="#060708" stroke-width="1.3"/>
<line x1="1114.6" y1="1261.5" x2="1222.6" y2="1261.5" stroke="#060708" stroke-width="1.3"/>
<polygon points="1080.5,1220.8 1101.9,1242 1085.92,1257.98 1064.52,1236.78" fill="#fff" stroke="#060708" stroke-width="1.1"/>
<line x1="1070.27" y1="1231.03" x2="1091.67" y2="1252.23" stroke="#060708" stroke-width="1.1"/>
<polygon points="1256.1,1221.5 1234.3,1242.9 1250.28,1258.88 1272.08,1237.48" fill="#fff" stroke="#060708" stroke-width="1.1"/>
<line x1="1266.33" y1="1231.73" x2="1244.53" y2="1253.13" stroke="#060708" stroke-width="1.1"/>
<polyline points="1044.2,649.4 804.5,649.4 804.5,757.7 1044.2,757.7" fill="none" stroke="#060708" stroke-width="1.2"/>
<rect x="763.1" y="682.2" width="36" height="42.4" fill="#fff" stroke="#060708" stroke-width="1.4" rx="4.7"/>
<rect x="767.2" y="685.6" width="28.5" height="35.2" fill="#fff" stroke="#060708" stroke-width="1.4" rx="3.4"/>
<circle cx="772.2" cy="703.9" r="2" fill="#fff" stroke="#060708" stroke-width="1.2"/>
<rect x="906.8" y="763.3" width="41.3" height="35.7" fill="#fff" stroke="#060708" stroke-width="1.2"/>
<circle cx="919" cy="773.4" r="5.6" fill="none" stroke="#060708" stroke-width="1.1"/>
<circle cx="919" cy="788.6" r="5.6" fill="none" stroke="#060708" stroke-width="1.1"/>
<circle cx="936.1" cy="773.4" r="5.6" fill="none" stroke="#060708" stroke-width="1.1"/>
<circle cx="936.1" cy="788.6" r="5.6" fill="none" stroke="#060708" stroke-width="1.1"/>
<rect x="773" y="843.6" width="42.2" height="11.4" fill="#fff" stroke="#060708" stroke-width="1.3" rx="1"/>
<path d="M779.5,855 L782.6,861.5 M808.5,855 L805.4,861.5" fill="none" stroke="#060708" stroke-width="1.2"/>
<path d="M785.5,858.7 L802.5,858.7 L810.8,869.2 C812.4,873.7 812.1,884.7 811,889.7 C809,898.7 801,904.9 794,904.9 C787,904.9 779,898.7 777,889.7 C775.9,884.7 775.6,873.7 777.2,869.2 Z" fill="#fff" stroke="#060708" stroke-width="1.3"/>
<path d="M835.3,843.6 L835.3,855.8 C836.5,863.5 844,868.3 853.3,868.3 C862.6,868.3 870.1,863.5 871.3,855.8 L871.3,843.6" fill="#fff" stroke="#060708" stroke-width="1.3"/>
<ellipse cx="853" cy="855.7" rx="14.3" ry="8.4" fill="#fff" stroke="#060708" stroke-width="1.3"/>
<circle cx="852.9" cy="850.3" r="1.5" fill="#555" stroke="#333" stroke-width="0.6"/>
<line x1="917.2" y1="1017.3" x2="943.6" y2="1017.3" stroke="#060708" stroke-width="1.3"/>
<line x1="889.9" y1="1036.3" x2="943.6" y2="1036.3" stroke="#060708" stroke-width="1.3"/>
<line x1="889.9" y1="1056.3" x2="943.6" y2="1056.3" stroke="#060708" stroke-width="1.3"/>
<line x1="889.9" y1="1075.6" x2="943.6" y2="1075.6" stroke="#060708" stroke-width="1.3"/>
<line x1="889.9" y1="1028.5" x2="943.6" y2="990.5" stroke="#060708" stroke-width="1.2"/>
<line x1="889.9" y1="1036.3" x2="943.6" y2="998" stroke="#060708" stroke-width="1.2"/>
<path d="M897.2,1023 L897.2,897.1 L936.6,897.1 L936.6,995" fill="none" stroke="#060708" stroke-width="1.3" stroke-dasharray="4.4 3.4"/>
<rect x="943.6" y="990.5" width="7.9" height="85.1" fill="#fff" stroke="#060708" stroke-width="1.2"/>
<line x1="945.63" y1="990.5" x2="951.5" y2="996.3" stroke="#060708" stroke-width="1.1"/>
<line x1="943.6" y1="996.06" x2="951.5" y2="1003.86" stroke="#060708" stroke-width="1.1"/>
<line x1="943.6" y1="1003.62" x2="951.5" y2="1011.42" stroke="#060708" stroke-width="1.1"/>
<line x1="943.6" y1="1011.18" x2="951.5" y2="1018.98" stroke="#060708" stroke-width="1.1"/>
<line x1="943.6" y1="1018.74" x2="951.5" y2="1026.54" stroke="#060708" stroke-width="1.1"/>
<line x1="943.6" y1="1026.3" x2="951.5" y2="1034.1" stroke="#060708" stroke-width="1.1"/>
<line x1="943.6" y1="1033.86" x2="951.5" y2="1041.66" stroke="#060708" stroke-width="1.1"/>
<line x1="943.6" y1="1041.42" x2="951.5" y2="1049.22" stroke="#060708" stroke-width="1.1"/>
<line x1="943.6" y1="1048.98" x2="951.5" y2="1056.78" stroke="#060708" stroke-width="1.1"/>
<line x1="943.6" y1="1056.54" x2="951.5" y2="1064.34" stroke="#060708" stroke-width="1.1"/>
<line x1="943.6" y1="1064.1" x2="951.5" y2="1071.9" stroke="#060708" stroke-width="1.1"/>
<line x1="943.6" y1="1071.66" x2="947.59" y2="1075.6" stroke="#060708" stroke-width="1.1"/>
<line x1="916.6" y1="1083" x2="916.6" y2="1049" stroke="#060708" stroke-width="1.3"/>
<polygon points="916.6,1037 913.2,1050.5 920,1050.5" fill="#060708"/>
<rect x="1258.7" y="536.9" width="2.6" height="54.5" fill="#060708"/>
<path d="M1207.9,579.3 A53,53 0 0 1 1258.7,537.2" fill="none" stroke="#060708" stroke-width="1.5"/>
<rect x="708.6" y="885.6" width="3" height="56.3" fill="#060708"/>
<path d="M658.2,928.3 A53.5,53.5 0 0 1 708.6,885.9" fill="none" stroke="#060708" stroke-width="1.5"/>
<rect x="872.3" y="951.5" width="2.6" height="50.5" fill="#060708"/>
<path d="M819.9,951.5 A52.5,50.5 0 0 0 872.3,1001.8" fill="none" stroke="#060708" stroke-width="1.5"/>
<rect x="1056" y="902.3" width="54.6" height="3.6" fill="#fff" stroke="#060708" stroke-width="1.2"/>
<line x1="1056" y1="905.6" x2="1110.6" y2="905.6" stroke="#060708" stroke-width="1.8"/>
<path d="M1056.5,850.6 A54,52 0 0 1 1110.6,902.3" fill="none" stroke="#060708" stroke-width="1.5"/>
<path d="M831.8,1085.4 A56.5,52.2 0 0 0 888.5,1137.5" fill="none" stroke="#060708" stroke-width="1.5"/>
<rect x="935.9" y="1110.3" width="2.9" height="53.5" fill="#060708"/>
<path d="M938.8,1110.9 A51,52.5 0 0 1 989.6,1153" fill="none" stroke="#060708" stroke-width="1.5"/>
<line x1="948.1" y1="873.8" x2="963.1" y2="846.6" stroke="#060708" stroke-width="3"/>
<path d="M963.1,846.7 A31.1,31.1 0 0 0 951.4,843" fill="none" stroke="#060708" stroke-width="1.1"/>
<line x1="947" y1="897" x2="970.9" y2="937" stroke="#060708" stroke-width="3.2"/>
<path d="M970.9,937 A46,46 0 0 1 951.8,944.2" fill="none" stroke="#060708" stroke-width="1.1"/>
<path d="M963.2,1156.2 L975.6,1168 L969.6,1168.6 L969.6,1185.5 Q969.6,1186.5 968.6,1186.5 L957.8,1186.5 Q956.8,1186.5 956.8,1185.5 L956.8,1168.6 L950.8,1168 Z" fill="#060708" stroke="#060708" stroke-width="0.5"/>
<line x1="959.4" y1="1216" x2="959.4" y2="1205" stroke="#060708" stroke-width="1.2"/>
<polygon points="959.4,1193.4 955.9,1206.6 962.9,1206.6" fill="#060708"/>
<polygon points="959.6,603.4 956,616.9 963.2,616.9" fill="#060708"/>
<polygon points="959.6,803.7 956,790.2 963.2,790.2" fill="#060708"/>
<polygon points="758,672.4 771.5,668.8 771.5,676" fill="#060708"/>
<polygon points="1044.4,672.6 1030.9,669 1030.9,676.2" fill="#060708"/>
<line x1="1044.8" y1="664.8" x2="1044.8" y2="680.4" stroke="#060708" stroke-width="1.2"/>
<polygon points="1168.2,603.4 1164.6,616.9 1171.8,616.9" fill="#060708"/>
<polygon points="1168.5,1245.5 1164.9,1232 1172.1,1232" fill="#060708"/>
<polygon points="1037.1,943.9 1050.6,940.3 1050.6,947.5" fill="#060708"/>
<polygon points="1300,943.9 1286.5,940.3 1286.5,947.5" fill="#060708"/>
<polygon points="742.1,951.5 738.5,965 745.7,965" fill="#060708"/>
<polygon points="742.1,1206.9 738.5,1193.4 745.7,1193.4" fill="#060708"/>
<polygon points="595.4,1076 608.9,1072.4 608.9,1079.6" fill="#060708"/>
<polygon points="881.7,1076 868.2,1072.4 868.2,1079.6" fill="#060708"/>
</g>
<g id="first">
<rect x="1385.3" y="579.4" width="457.8" height="666.7" fill="#fff"/>
<path d="M1385.3,579.4H1409.1V1246.1H1385.3Z M1385.3,579.4H1843.1V618.9H1385.3Z M1819.1,579.4H1843.1V1246.1H1819.1Z M1385.3,1206.7H1843.1V1246.1H1385.3Z M1586.9,618.9H1595.4V842.7H1586.9Z M1571.5,819.6H1595.4V842.7H1571.5Z M1571.5,842.7H1579.5V851H1571.5Z M1409.1,757.7H1517.7V765.6H1409.1Z M1571.2,757.7H1586.9V765.6H1571.2Z M1462.9,765.6H1471V773.4H1462.9Z M1462.9,819.8H1471V835.3H1462.9Z M1409.1,826.9H1471V835.3H1409.1Z M1409.1,1005.5H1509.4V1013.4H1409.1Z M1563.4,1005.5H1571.2V1013.4H1563.4Z M1571.2,998.1H1579.6V1206.7H1571.2Z M1571.2,903.7H1579.6V944.6H1571.2Z M1579.6,912.4H1819.1V920.2H1579.6Z M1796.1,680.2H1820V835.4H1796.1Z M1772.9,827.4H1819.1V835.4H1772.9Z M1772.9,827.4H1780.9V843.2H1772.9Z M1772.9,904.5H1780.9V928.9H1772.9Z M1772.9,982.1H1819.1V989.9H1772.9Z M1772.9,974.7H1780.9V989.9H1772.9Z M1796.1,982.1H1820V1130.2H1796.1Z M1772.9,1121.9H1819.1V1130.2H1772.9Z M1772.9,1121.9H1780.9V1137.6H1772.9Z M1772.9,1199.4H1780.9V1206.7H1772.9Z" fill="#060708" stroke="none" stroke-width="0"/>
<polygon points="1422.3,1246.1 1438.3,1261.6 1533.8,1261.6 1550.3,1246.1" fill="#060708"/>
<polygon points="1432.4,1206.7 1539.9,1206.7 1539.9,1222 1525,1237.7 1447.5,1237.7 1432.4,1222" fill="#fff"/>
<line x1="1432.4" y1="1206.7" x2="1539.9" y2="1206.7" stroke="#060708" stroke-width="1"/>
<rect x="1455.4" y="1237.7" width="61.5" height="23.5" fill="#fff" stroke="#060708" stroke-width="1.3"/>
<line x1="1455.4" y1="1253.4" x2="1516.9" y2="1253.4" stroke="#060708" stroke-width="1.3"/>
<polygon points="1439.78,1231.48 1445.22,1236.92 1429.67,1252.48 1424.22,1247.03" fill="#fff" stroke="#060708" stroke-width="1"/>
<line x1="1429.51" y1="1241.74" x2="1434.96" y2="1247.19" stroke="#060708" stroke-width="1"/>
<polygon points="1527.58,1236.92 1533.02,1231.48 1548.58,1247.03 1543.13,1252.48" fill="#fff" stroke="#060708" stroke-width="1"/>
<line x1="1537.84" y1="1247.19" x2="1543.29" y2="1241.74" stroke="#060708" stroke-width="1"/>
<rect x="1463.6" y="603" width="45.4" height="16.3" fill="#fff"/>
<line x1="1463.6" y1="618.9" x2="1509" y2="618.9" stroke="#060708" stroke-width="1"/>
<rect x="1471" y="579.9" width="30" height="23.1" fill="#fff" stroke="#060708" stroke-width="1.3"/>
<line x1="1471" y1="587" x2="1501" y2="587" stroke="#060708" stroke-width="1.3"/>
<rect x="1525.6" y="603" width="53.1" height="16.3" fill="#fff"/>
<line x1="1525.6" y1="618.9" x2="1578.7" y2="618.9" stroke="#060708" stroke-width="1"/>
<rect x="1533.2" y="579.9" width="38" height="23.1" fill="#fff" stroke="#060708" stroke-width="1.3"/>
<line x1="1533.2" y1="587" x2="1571.2" y2="587" stroke="#060708" stroke-width="1.3"/>
<rect x="1641.8" y="603" width="107.6" height="16.3" fill="#fff"/>
<line x1="1641.8" y1="618.9" x2="1749.4" y2="618.9" stroke="#060708" stroke-width="1"/>
<rect x="1649.3" y="579.9" width="92.3" height="23.1" fill="#fff" stroke="#060708" stroke-width="1.3"/>
<line x1="1649.3" y1="587" x2="1741.6" y2="587" stroke="#060708" stroke-width="1.3"/>
<rect x="1633.9" y="1206.3" width="123.2" height="15.7" fill="#fff"/>
<line x1="1633.9" y1="1206.7" x2="1757.1" y2="1206.7" stroke="#060708" stroke-width="1"/>
<rect x="1641.8" y="1222" width="107.6" height="23.6" fill="#fff" stroke="#060708" stroke-width="1.3"/>
<line x1="1641.8" y1="1238.6" x2="1749.4" y2="1238.6" stroke="#060708" stroke-width="1.3"/>
<line x1="1463" y1="618.9" x2="1463" y2="757.7" stroke="#060708" stroke-width="1.3"/>
<path d="M1412.3,748.4 L1412.3,646.5 A23.75,23.75 0 0 1 1459.8,646.5 L1459.8,748.4 Q1459.8,752.4 1455.8,752.4 L1416.3,752.4 Q1412.3,752.4 1412.3,748.4 Z" fill="#fff" stroke="#060708" stroke-width="1.4"/>
<circle cx="1436" cy="745.8" r="2.6" fill="#fff" stroke="#060708" stroke-width="1.3"/>
<path d="M1486.1,618.9 L1486.1,632.8 C1487.3,639.5 1494.8,643.6 1504.2,643.6 C1513.6,643.6 1521.2,639.5 1522.4,632.8 L1522.4,618.9" fill="#fff" stroke="#060708" stroke-width="1.3"/>
<ellipse cx="1504.1" cy="631.1" rx="14" ry="8.5" fill="#fff" stroke="#060708" stroke-width="1.3"/>
<circle cx="1504" cy="625.7" r="1.5" fill="#fff" stroke="#222" stroke-width="1"/>
<path d="M1546.7,618.9 L1549.8,624.9 M1575.7,618.9 L1572.6,624.9" fill="none" stroke="#060708" stroke-width="1.2"/>
<path d="M1552.7,622.1 L1569.7,622.1 L1578,632.6 C1579.6,637.1 1579.3,648.1 1578.2,653.1 C1576.2,662.1 1568.2,668.3 1561.2,668.3 C1554.2,668.3 1546.2,662.1 1544.2,653.1 C1543.1,648.1 1542.8,637.1 1544.4,632.6 Z" fill="#fff" stroke="#060708" stroke-width="1.3"/>
<rect x="1572.1" y="765.6" width="14.8" height="54" fill="#fff" stroke="#060708" stroke-width="1.1"/>
<line x1="1470.7" y1="835.3" x2="1470.7" y2="889.7" stroke="#060708" stroke-width="1.1"/>
<line x1="1470.7" y1="889.7" x2="1440.6" y2="835.3" stroke="#060708" stroke-width="1.1"/>
<line x1="1470.7" y1="889.7" x2="1409.1" y2="854.9" stroke="#060708" stroke-width="1.1"/>
<line x1="1409.1" y1="889.7" x2="1470.7" y2="889.7" stroke="#060708" stroke-width="1.1"/>
<line x1="1409.1" y1="908.9" x2="1462.3" y2="908.9" stroke="#060708" stroke-width="1.1"/>
<line x1="1409.1" y1="928.4" x2="1452" y2="928.4" stroke="#060708" stroke-width="1.1"/>
<line x1="1409.1" y1="947.7" x2="1425.3" y2="947.7" stroke="#060708" stroke-width="1.1"/>
<line x1="1409.1" y1="959.4" x2="1462.3" y2="921.1" stroke="#060708" stroke-width="1.1"/>
<line x1="1409.1" y1="966.4" x2="1462.3" y2="928.4" stroke="#060708" stroke-width="1.1"/>
<rect x="1462.3" y="889.7" width="8.4" height="115.8" fill="#fff" stroke="#060708" stroke-width="1.1"/>
<line x1="1466.28" y1="889.7" x2="1470.7" y2="893.8" stroke="#060708" stroke-width="1.1"/>
<line x1="1462.3" y1="893.56" x2="1470.7" y2="901.36" stroke="#060708" stroke-width="1.1"/>
<line x1="1462.3" y1="901.12" x2="1470.7" y2="908.92" stroke="#060708" stroke-width="1.1"/>
<line x1="1462.3" y1="908.68" x2="1470.7" y2="916.48" stroke="#060708" stroke-width="1.1"/>
<line x1="1462.3" y1="916.24" x2="1470.7" y2="924.04" stroke="#060708" stroke-width="1.1"/>
<line x1="1462.3" y1="923.8" x2="1470.7" y2="931.6" stroke="#060708" stroke-width="1.1"/>
<line x1="1462.3" y1="931.36" x2="1470.7" y2="939.16" stroke="#060708" stroke-width="1.1"/>
<line x1="1462.3" y1="938.92" x2="1470.7" y2="946.72" stroke="#060708" stroke-width="1.1"/>
<line x1="1462.3" y1="946.48" x2="1470.7" y2="954.28" stroke="#060708" stroke-width="1.1"/>
<line x1="1462.3" y1="954.04" x2="1470.7" y2="961.84" stroke="#060708" stroke-width="1.1"/>
<line x1="1462.3" y1="961.6" x2="1470.7" y2="969.4" stroke="#060708" stroke-width="1.1"/>
<line x1="1462.3" y1="969.16" x2="1470.7" y2="976.96" stroke="#060708" stroke-width="1.1"/>
<line x1="1462.3" y1="976.72" x2="1470.7" y2="984.52" stroke="#060708" stroke-width="1.1"/>
<line x1="1462.3" y1="984.28" x2="1470.7" y2="992.08" stroke="#060708" stroke-width="1.1"/>
<line x1="1462.3" y1="991.84" x2="1470.7" y2="999.64" stroke="#060708" stroke-width="1.1"/>
<line x1="1462.3" y1="999.4" x2="1468.87" y2="1005.5" stroke="#060708" stroke-width="1.1"/>
<rect x="1569.1" y="761.2" width="3" height="54.5" fill="#060708"/>
<path d="M1517.7,765.6 A51.5,50 0 0 0 1569.1,815.5" fill="none" stroke="#060708" stroke-width="1.5"/>
<line x1="1466.5" y1="773.4" x2="1489.3" y2="812.6" stroke="#060708" stroke-width="3"/>
<path d="M1489.3,812.6 A45.5,45.5 0 0 1 1471,819.8" fill="none" stroke="#060708" stroke-width="1.1"/>
<rect x="1577" y="903" width="52.9" height="2.8" fill="#fff" stroke="#060708" stroke-width="1.2"/>
<path d="M1577,851 A53,52 0 0 1 1629.9,903" fill="none" stroke="#060708" stroke-width="1.5"/>
<rect x="1577" y="943.7" width="52.9" height="2.6" fill="#fff" stroke="#060708" stroke-width="1.2"/>
<path d="M1629.9,946.3 A53,52 0 0 1 1577,998.1" fill="none" stroke="#060708" stroke-width="1.5"/>
<rect x="1561.3" y="1009" width="3" height="54.4" fill="#060708"/>
<path d="M1509.4,1013.4 A52,50 0 0 0 1561.3,1063.2" fill="none" stroke="#060708" stroke-width="1.5"/>
<polyline points="1776.9,843.2 1761.6,869.3 1776.9,874 1761.6,878.7 1776.9,904.5" fill="none" stroke="#060708" stroke-width="1.8"/>
<polyline points="1776.9,928.9 1765.6,948.1 1776.9,951.9 1765.6,955.6 1776.9,974.7" fill="none" stroke="#060708" stroke-width="1.8"/>
<polyline points="1776.9,1137.6 1761.6,1163.7 1776.9,1168.4 1761.6,1172.9 1776.9,1199.4" fill="none" stroke="#060708" stroke-width="1.8"/>
<polygon points="1703.1,618.9 1699.5,632.4 1706.7,632.4" fill="#060708"/>
<polygon points="1703.1,912.4 1699.5,898.9 1706.7,898.9" fill="#060708"/>
<polygon points="1703.1,920.2 1699.5,933.7 1706.7,933.7" fill="#060708"/>
<polygon points="1703.3,1206.7 1699.7,1193.2 1706.9,1193.2" fill="#060708"/>
<polygon points="1819.1,874 1805.6,870.4 1805.6,877.6" fill="#060708"/>
<polygon points="1819.1,1137.6 1805.6,1134 1805.6,1141.2" fill="#060708"/>
<polygon points="1579.6,1137.6 1593.1,1134 1593.1,1141.2" fill="#060708"/>
<polygon points="1579.9,874 1593.4,870.4 1593.4,877.6" fill="#060708"/>
<line x1="1579.9" y1="866.8" x2="1579.9" y2="881.2" stroke="#060708" stroke-width="1.2"/>
<polygon points="1409.1,1114.4 1422.6,1110.8 1422.6,1118" fill="#060708"/>
<polygon points="1571.2,1114.4 1557.7,1110.8 1557.7,1118" fill="#060708"/>
<polygon points="1486.2,1013.4 1482.6,1026.9 1489.8,1026.9" fill="#060708"/>
<polygon points="1486.4,1237.7 1482.8,1224.2 1490,1224.2" fill="#060708"/>
</g>
<g id="compass" transform="translate(1617.9,302.4)">
<circle cx="0" cy="0" r="28.6" fill="none" stroke="#060708" stroke-width="1.3"/>
<g transform="rotate(45)">
<polygon points="0,-29.2 11.47,0 0,0" fill="#060708" stroke="#060708" stroke-width="0.6"/>
<polygon points="0,-29.2 -11.47,0 0,0" fill="#fff" stroke="#060708" stroke-width="0.9"/>
</g>
<g transform="rotate(135)">
<polygon points="0,-29.2 11.47,0 0,0" fill="#060708" stroke="#060708" stroke-width="0.6"/>
<polygon points="0,-29.2 -11.47,0 0,0" fill="#fff" stroke="#060708" stroke-width="0.9"/>
</g>
<g transform="rotate(225)">
<polygon points="0,-29.2 11.47,0 0,0" fill="#060708" stroke="#060708" stroke-width="0.6"/>
<polygon points="0,-29.2 -11.47,0 0,0" fill="#fff" stroke="#060708" stroke-width="0.9"/>
</g>
<g transform="rotate(315)">
<polygon points="0,-29.2 11.47,0 0,0" fill="#060708" stroke="#060708" stroke-width="0.6"/>
<polygon points="0,-29.2 -11.47,0 0,0" fill="#fff" stroke="#060708" stroke-width="0.9"/>
</g>
<g transform="rotate(0)">
<polygon points="0,-40.3 8.27,-8.27 0,0" fill="#060708" stroke="#060708" stroke-width="0.6"/>
<polygon points="0,-40.3 -8.27,-8.27 0,0" fill="#fff" stroke="#060708" stroke-width="0.9"/>
</g>
<g transform="rotate(90)">
<polygon points="0,-40.3 8.27,-8.27 0,0" fill="#060708" stroke="#060708" stroke-width="0.6"/>
<polygon points="0,-40.3 -8.27,-8.27 0,0" fill="#fff" stroke="#060708" stroke-width="0.9"/>
</g>
<g transform="rotate(180)">
<polygon points="0,-40.3 8.27,-8.27 0,0" fill="#060708" stroke="#060708" stroke-width="0.6"/>
<polygon points="0,-40.3 -8.27,-8.27 0,0" fill="#fff" stroke="#060708" stroke-width="0.9"/>
</g>
<g transform="rotate(270)">
<polygon points="0,-40.3 8.27,-8.27 0,0" fill="#060708" stroke="#060708" stroke-width="0.6"/>
<polygon points="0,-40.3 -8.27,-8.27 0,0" fill="#fff" stroke="#060708" stroke-width="0.9"/>
</g>
<circle cx="0" cy="0" r="12.5" fill="#fff" stroke="#060708" stroke-width="1.3"/>
</g>
<text transform="translate(1570.8,308.4) rotate(-90)" font-size="23.6" font-weight="bold" textLength="11" lengthAdjust="spacingAndGlyphs">N</text>
<rect x="997.8" y="350" width="94.6" height="35" fill="#fff" stroke="#222" stroke-width="1.1"/>
<rect x="954.6" y="1291.7" width="156.8" height="123.7" fill="#fff" stroke="#222" stroke-width="1.1"/>
<g id="labels">
<text x="1038.7" y="126.3" font-size="65.1" textLength="323.38" lengthAdjust="spacingAndGlyphs" stroke="#0a0a0a" stroke-width="0.52" font-weight="bold">HERBERT ROAD</text>
<text x="675.71" y="183.9" font-size="44.3" textLength="687.24" lengthAdjust="spacingAndGlyphs" stroke="#0a0a0a" stroke-width="0.53">APPROXIMATE GROSS INTERNAL FLOOR AREA:</text>
<text x="1384.51" y="183.9" font-size="44.3" textLength="143.84" lengthAdjust="spacingAndGlyphs" stroke="#0a0a0a" stroke-width="0.35" font-weight="bold">1125 SQ FT</text>
<text x="1543.51" y="183.9" font-size="44.3" textLength="9.74" lengthAdjust="spacingAndGlyphs" stroke="#0a0a0a" stroke-width="0.35" font-weight="bold">-</text>
<text x="1567.91" y="183.9" font-size="44.3" textLength="154.84" lengthAdjust="spacingAndGlyphs" stroke="#0a0a0a" stroke-width="0.35" font-weight="bold">104.50 SQ M</text>
<text x="1006.5" y="376" font-size="25.2" textLength="75.79" lengthAdjust="spacingAndGlyphs" stroke="#0a0a0a" stroke-width="0.3">GARDEN</text>
<text x="866.4" y="681.6" font-size="25.2" textLength="77.19" lengthAdjust="spacingAndGlyphs" stroke="#0a0a0a" stroke-width="0.3">KITCHEN</text>
<text x="862.7" y="709.3" font-size="25.2" textLength="85.59" lengthAdjust="spacingAndGlyphs" stroke="#0a0a0a" stroke-width="0.3">12'2&quot; x 8'8&quot;</text>
<text x="854.6" y="735.6" font-size="25.2" textLength="100.99" lengthAdjust="spacingAndGlyphs" stroke="#0a0a0a" stroke-width="0.3">3.70 x 2.63M</text>
<text x="1095.8" y="960.8" font-size="25.2" textLength="161.19" lengthAdjust="spacingAndGlyphs" stroke="#0a0a0a" stroke-width="0.3">RECEPTION ROOM</text>
<text x="1127.9" y="988.2" font-size="25.2" textLength="96.49" lengthAdjust="spacingAndGlyphs" stroke="#0a0a0a" stroke-width="0.3">27'2&quot; x 11'2&quot;</text>
<text x="1125.8" y="1014.8" font-size="25.2" textLength="101.09" lengthAdjust="spacingAndGlyphs" stroke="#0a0a0a" stroke-width="0.3">8.29 x 3.41M</text>
<text x="697.5" y="1061.2" font-size="25.2" textLength="74.19" lengthAdjust="spacingAndGlyphs" stroke="#0a0a0a" stroke-width="0.3">LOUNGE</text>
<text x="682.7" y="1088.2" font-size="25.2" textLength="105.19" lengthAdjust="spacingAndGlyphs" stroke="#0a0a0a" stroke-width="0.3">12'1&quot; x 10'11&quot;</text>
<text x="684.1" y="1115.2" font-size="25.2" textLength="100.69" lengthAdjust="spacingAndGlyphs" stroke="#0a0a0a" stroke-width="0.3">3.69 x 3.34M</text>
<text x="994.7" y="1319.2" font-size="25.2" textLength="75.09" lengthAdjust="spacingAndGlyphs" stroke="#0a0a0a" stroke-width="0.3">GARDEN</text>
<text x="988.6" y="1346.6" font-size="25.2" textLength="87.69" lengthAdjust="spacingAndGlyphs" stroke="#0a0a0a" stroke-width="0.3">23'4&quot; x 9'2&quot;</text>
<text x="982.5" y="1374.1" font-size="25.2" textLength="100.69" lengthAdjust="spacingAndGlyphs" stroke="#0a0a0a" stroke-width="0.3">7.10 x 2.79M</text>
<text x="963.4" y="1401.1" font-size="25.2" textLength="138.99" lengthAdjust="spacingAndGlyphs" stroke="#0a0a0a" stroke-width="0.3">(APPROXIMATE)</text>
<text x="1657.8" y="743.8" font-size="25.2" textLength="90.29" lengthAdjust="spacingAndGlyphs" stroke="#0a0a0a" stroke-width="0.3">BEDROOM</text>
<text x="1655.2" y="770.8" font-size="25.2" textLength="97.19" lengthAdjust="spacingAndGlyphs" stroke="#0a0a0a" stroke-width="0.3">12'5&quot; x 10'2&quot;</text>
<text x="1652.6" y="797.8" font-size="25.2" textLength="100.69" lengthAdjust="spacingAndGlyphs" stroke="#0a0a0a" stroke-width="0.3">3.78 x 3.11M</text>
<text x="1658.2" y="1045.3" font-size="25.2" textLength="89.89" lengthAdjust="spacingAndGlyphs" stroke="#0a0a0a" stroke-width="0.3">BEDROOM</text>
<text x="1664.5" y="1072.5" font-size="25.2" textLength="79.19" lengthAdjust="spacingAndGlyphs" stroke="#0a0a0a" stroke-width="0.3">12' x 10'3&quot;</text>
<text x="1652.6" y="1100.1" font-size="25.2" textLength="100.69" lengthAdjust="spacingAndGlyphs" stroke="#0a0a0a" stroke-width="0.3">3.66 x 3.12M</text>
<text x="1446.7" y="1092.8" font-size="25.2" textLength="90.09" lengthAdjust="spacingAndGlyphs" stroke="#0a0a0a" stroke-width="0.3">BEDROOM</text>
<text x="1452.8" y="1120.5" font-size="25.2" textLength="77.49" lengthAdjust="spacingAndGlyphs" stroke="#0a0a0a" stroke-width="0.3">9'7&quot; x 6'8&quot;</text>
<text x="1440.9" y="1147.5" font-size="25.2" textLength="101.29" lengthAdjust="spacingAndGlyphs" stroke="#0a0a0a" stroke-width="0.3">2.91 x 2.04M</text>
<text x="897.08" y="1493.9" font-size="25.9" textLength="149.22" lengthAdjust="spacingAndGlyphs" stroke="#0a0a0a" stroke-width="0.31">GROUND FLOOR</text>
<text x="1562.88" y="1309.2" font-size="25.9" textLength="120.72" lengthAdjust="spacingAndGlyphs" stroke="#0a0a0a" stroke-width="0.31">FIRST FLOOR</text>
<text x="974.22" y="1530.6" font-size="34.2" textLength="437.88" lengthAdjust="spacingAndGlyphs" stroke="#0a0a0a" stroke-width="0.41">FOR ILLUSTRATION PURPOSES ONLY</text>
<text x="554.56" y="1575.2" font-size="21.8" textLength="1292.1" lengthAdjust="spacingAndGlyphs" stroke="#0a0a0a" stroke-width="0.26">THIS FLOOR PLAN SHOULD BE USED AS A GENERAL OUTLINE FOR GUIDANCE ONLY AND DOES NOT CONSTITUTE IN WHOLE OR IN PART AN OFFER OR CONTRACT.</text>
<text x="469.16" y="1598.9" font-size="21.8" textLength="1461.8" lengthAdjust="spacingAndGlyphs" stroke="#0a0a0a" stroke-width="0.26">ANY INTENDING PURCHASER OR LESSEE SHOULD SATISFY THEMSELVES BY INSPECTION, SEARCHES, ENQUIRIES AND FULL SURVEY AS TO THE CORRECTNESS OF EACH STATEMENT.</text>
<text x="533.66" y="1622.6" font-size="21.8" textLength="1332.8" lengthAdjust="spacingAndGlyphs" stroke="#0a0a0a" stroke-width="0.26">ANY AREAS, MEASUREMENTS OR DISTANCES QUOTED ARE APPROXIMATE AND SHOULD NOT BE USED TO VALUE A PROPERTY OR BE THE BASIS OF ANY SALE OR LET.</text>
</g>
<g id="watermark" opacity="0.2" style="fill:#808080">
<defs><filter id="wmsmear" filterUnits="userSpaceOnUse" x="0" y="640" width="2400" height="420"><feMorphology operator="dilate" radius="8 0.01"/></filter></defs>
<g filter="url(#wmsmear)"><text transform="translate(0,961.5) scale(1,2.74)" font-size="100" style="font-family:'DejaVu Sans Light','DejaVu Sans',sans-serif;font-weight:200;fill:#808080"><tspan x="161.76" textLength="195.79" lengthAdjust="spacingAndGlyphs">b</tspan><tspan x="342.79" textLength="155.44" lengthAdjust="spacingAndGlyphs">a</tspan><tspan x="477.26" textLength="130.05" lengthAdjust="spacingAndGlyphs">r</tspan><tspan x="598.69" textLength="185.8" lengthAdjust="spacingAndGlyphs">n</tspan><tspan x="763.56" textLength="152.65" lengthAdjust="spacingAndGlyphs">a</tspan><tspan x="895.75" textLength="131.16" lengthAdjust="spacingAndGlyphs">r</tspan><tspan x="1022.72" textLength="195.22" lengthAdjust="spacingAndGlyphs">d</tspan> <tspan x="1291.44" textLength="274.01" lengthAdjust="spacingAndGlyphs">m</tspan><tspan x="1551.93" textLength="152.95" lengthAdjust="spacingAndGlyphs">a</tspan><tspan x="1681.9" textLength="132.41" lengthAdjust="spacingAndGlyphs">r</tspan><tspan x="1811.9" textLength="161.62" lengthAdjust="spacingAndGlyphs">c</tspan><tspan x="1945.88" textLength="170.61" lengthAdjust="spacingAndGlyphs">u</tspan><tspan x="2102.65" textLength="116.03" lengthAdjust="spacingAndGlyphs">s</tspan></text></g>
<rect x="189" y="737" width="27.9" height="30"/>
<rect x="1162.9" y="735" width="27.9" height="32"/>
</g>
</svg></body></html>
